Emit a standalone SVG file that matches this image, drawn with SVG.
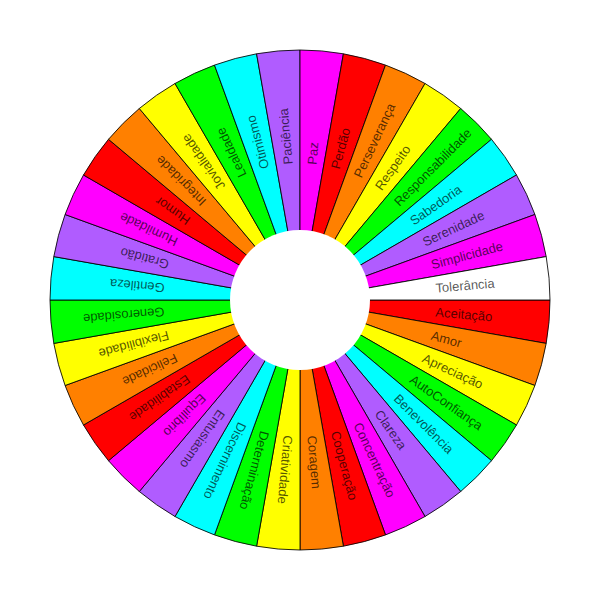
<svg xmlns="http://www.w3.org/2000/svg" width="600" height="600" viewBox="0 0 600 600">
<style>
.seg{stroke:#000;stroke-width:1;stroke-opacity:.85}
.lbl{font-family:"Liberation Sans",Arial,sans-serif;font-size:13px;fill:#000;fill-opacity:.68}
.c0{fill:#ff0000}.c1{fill:#ff8000}.c2{fill:#ffff00}.c3{fill:#00ff00}.c4{fill:#00ffff}.c5{fill:#b05cff}.c6{fill:#ff00ff}.cw{fill:#ffffff}
</style>
<rect width="600" height="600" fill="#fff"/>
<g id="s0"><path class="seg c0" d="M300 300L550 300A250 250 0 0 1 546.20 343.41Z"/><text class="lbl" x="436" y="300" dy=".35em" transform="rotate(5 300 300)">Aceitação</text></g>
<g id="s1"><path class="seg c1" d="M300 300L546.20 343.41A250 250 0 0 1 534.92 385.51Z"/><text class="lbl" x="436" y="300" dy=".35em" transform="rotate(15 300 300)">Amor</text></g>
<g id="s2"><path class="seg c2" d="M300 300L534.92 385.51A250 250 0 0 1 516.51 425Z"/><text class="lbl" x="436" y="300" dy=".35em" transform="rotate(25 300 300)">Apreciação</text></g>
<g id="s3"><path class="seg c3" d="M300 300L516.51 425A250 250 0 0 1 491.51 460.70Z"/><text class="lbl" x="436" y="300" dy=".35em" transform="rotate(35 300 300)">AutoConfiança</text></g>
<g id="s4"><path class="seg c4" d="M300 300L491.51 460.70A250 250 0 0 1 460.70 491.51Z"/><text class="lbl" x="436" y="300" dy=".35em" transform="rotate(45 300 300)">Benevolência</text></g>
<g id="s5"><path class="seg c5" d="M300 300L460.70 491.51A250 250 0 0 1 425 516.51Z"/><text class="lbl" x="436" y="300" dy=".35em" transform="rotate(55 300 300)">Clareza</text></g>
<g id="s6"><path class="seg c6" d="M300 300L425 516.51A250 250 0 0 1 385.51 534.92Z"/><text class="lbl" x="436" y="300" dy=".35em" transform="rotate(65 300 300)">Concentração</text></g>
<g id="s7"><path class="seg c0" d="M300 300L385.51 534.92A250 250 0 0 1 343.41 546.20Z"/><text class="lbl" x="436" y="300" dy=".35em" transform="rotate(75 300 300)">Cooperação</text></g>
<g id="s8"><path class="seg c1" d="M300 300L343.41 546.20A250 250 0 0 1 300 550Z"/><text class="lbl" x="436" y="300" dy=".35em" transform="rotate(85 300 300)">Coragem</text></g>
<g id="s9"><path class="seg c2" d="M300 300L300 550A250 250 0 0 1 256.59 546.20Z"/><text class="lbl" x="436" y="300" dy=".35em" transform="rotate(95 300 300)">Criatividade</text></g>
<g id="s10"><path class="seg c3" d="M300 300L256.59 546.20A250 250 0 0 1 214.49 534.92Z"/><text class="lbl" x="436" y="300" dy=".35em" transform="rotate(105 300 300)">Determinação</text></g>
<g id="s11"><path class="seg c4" d="M300 300L214.49 534.92A250 250 0 0 1 175 516.51Z"/><text class="lbl" x="436" y="300" dy=".35em" transform="rotate(115 300 300)">Discernimento</text></g>
<g id="s12"><path class="seg c5" d="M300 300L175 516.51A250 250 0 0 1 139.30 491.51Z"/><text class="lbl" x="436" y="300" dy=".35em" transform="rotate(125 300 300)">Entusiasmo</text></g>
<g id="s13"><path class="seg c6" d="M300 300L139.30 491.51A250 250 0 0 1 108.49 460.70Z"/><text class="lbl" x="436" y="300" dy=".35em" transform="rotate(135 300 300)">Equilíbrio</text></g>
<g id="s14"><path class="seg c0" d="M300 300L108.49 460.70A250 250 0 0 1 83.49 425Z"/><text class="lbl" x="436" y="300" dy=".35em" transform="rotate(145 300 300)">Estabilidade</text></g>
<g id="s15"><path class="seg c1" d="M300 300L83.49 425A250 250 0 0 1 65.08 385.51Z"/><text class="lbl" x="436" y="300" dy=".35em" transform="rotate(155 300 300)">Felicidade</text></g>
<g id="s16"><path class="seg c2" d="M300 300L65.08 385.51A250 250 0 0 1 53.80 343.41Z"/><text class="lbl" x="436" y="300" dy=".35em" transform="rotate(165 300 300)">Flexibilidade</text></g>
<g id="s17"><path class="seg c3" d="M300 300L53.80 343.41A250 250 0 0 1 50 300Z"/><text class="lbl" x="436" y="300" dy=".35em" transform="rotate(175 300 300)">Generosidade</text></g>
<g id="s18"><path class="seg c4" d="M300 300L50 300A250 250 0 0 1 53.80 256.59Z"/><text class="lbl" x="436" y="300" dy=".35em" transform="rotate(185 300 300)">Gentileza</text></g>
<g id="s19"><path class="seg c5" d="M300 300L53.80 256.59A250 250 0 0 1 65.08 214.49Z"/><text class="lbl" x="436" y="300" dy=".35em" transform="rotate(195 300 300)">Gratidão</text></g>
<g id="s20"><path class="seg c6" d="M300 300L65.08 214.49A250 250 0 0 1 83.49 175Z"/><text class="lbl" x="436" y="300" dy=".35em" transform="rotate(205 300 300)">Humildade</text></g>
<g id="s21"><path class="seg c0" d="M300 300L83.49 175A250 250 0 0 1 108.49 139.30Z"/><text class="lbl" x="436" y="300" dy=".35em" transform="rotate(215 300 300)">Humor</text></g>
<g id="s22"><path class="seg c1" d="M300 300L108.49 139.30A250 250 0 0 1 139.30 108.49Z"/><text class="lbl" x="436" y="300" dy=".35em" transform="rotate(225 300 300)">Integridade</text></g>
<g id="s23"><path class="seg c2" d="M300 300L139.30 108.49A250 250 0 0 1 175 83.49Z"/><text class="lbl" x="436" y="300" dy=".35em" transform="rotate(235 300 300)">Jovialidade</text></g>
<g id="s24"><path class="seg c3" d="M300 300L175 83.49A250 250 0 0 1 214.49 65.08Z"/><text class="lbl" x="436" y="300" dy=".35em" transform="rotate(245 300 300)">Lealdade</text></g>
<g id="s25"><path class="seg c4" d="M300 300L214.49 65.08A250 250 0 0 1 256.59 53.80Z"/><text class="lbl" x="436" y="300" dy=".35em" transform="rotate(255 300 300)">Otimismo</text></g>
<g id="s26"><path class="seg c5" d="M300 300L256.59 53.80A250 250 0 0 1 300 50Z"/><text class="lbl" x="436" y="300" dy=".35em" transform="rotate(265 300 300)">Paciência</text></g>
<g id="s27"><path class="seg c6" d="M300 300L300 50A250 250 0 0 1 343.41 53.80Z"/><text class="lbl" x="436" y="300" dy=".35em" transform="rotate(275 300 300)">Paz</text></g>
<g id="s28"><path class="seg c0" d="M300 300L343.41 53.80A250 250 0 0 1 385.51 65.08Z"/><text class="lbl" x="436" y="300" dy=".35em" transform="rotate(285 300 300)">Perdão</text></g>
<g id="s29"><path class="seg c1" d="M300 300L385.51 65.08A250 250 0 0 1 425 83.49Z"/><text class="lbl" x="436" y="300" dy=".35em" transform="rotate(295 300 300)">Perseverança</text></g>
<g id="s30"><path class="seg c2" d="M300 300L425 83.49A250 250 0 0 1 460.70 108.49Z"/><text class="lbl" x="436" y="300" dy=".35em" transform="rotate(305 300 300)">Respeito</text></g>
<g id="s31"><path class="seg c3" d="M300 300L460.70 108.49A250 250 0 0 1 491.51 139.30Z"/><text class="lbl" x="436" y="300" dy=".35em" transform="rotate(315 300 300)">Responsabilidade</text></g>
<g id="s32"><path class="seg c4" d="M300 300L491.51 139.30A250 250 0 0 1 516.51 175Z"/><text class="lbl" x="436" y="300" dy=".35em" transform="rotate(325 300 300)">Sabedoria</text></g>
<g id="s33"><path class="seg c5" d="M300 300L516.51 175A250 250 0 0 1 534.92 214.49Z"/><text class="lbl" x="436" y="300" dy=".35em" transform="rotate(335 300 300)">Serenidade</text></g>
<g id="s34"><path class="seg c6" d="M300 300L534.92 214.49A250 250 0 0 1 546.20 256.59Z"/><text class="lbl" x="436" y="300" dy=".35em" transform="rotate(345 300 300)">Simplicidade</text></g>
<g id="s35"><path class="seg cw" d="M300 300L546.20 256.59A250 250 0 0 1 550 300Z"/><text class="lbl" x="436" y="300" dy=".35em" transform="rotate(355 300 300)">Tolerância</text></g>
<g id="connectors"></g>
<circle id="hub" cx="300" cy="300" r="70" fill="#fff"/>
</svg>
